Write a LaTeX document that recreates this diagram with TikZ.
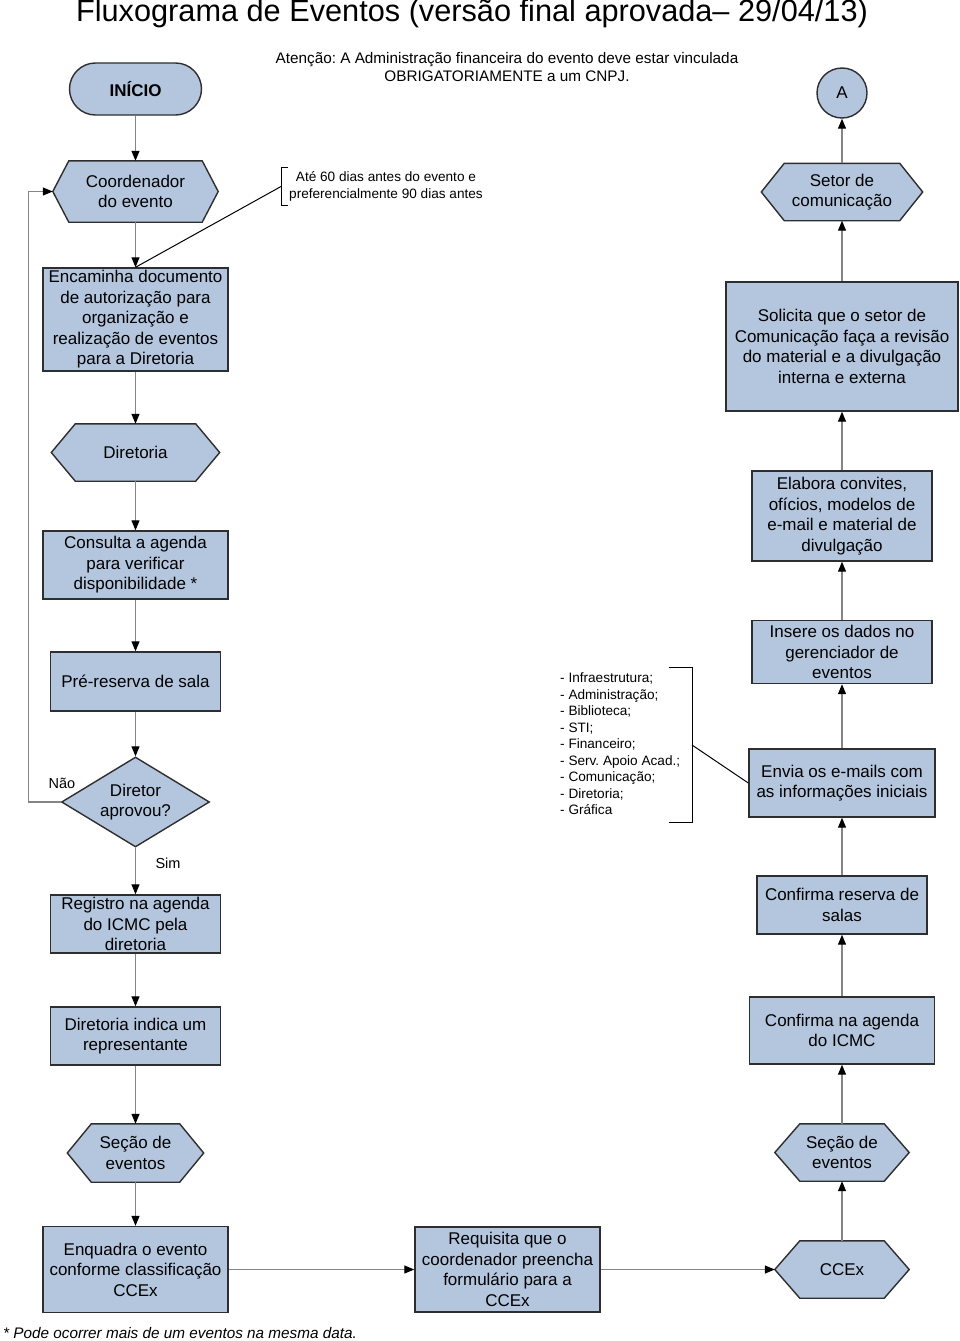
\documentclass[tikz,border=0pt]{standalone}
\usepackage{fontspec}
\setmainfont{Liberation Sans}
\usepackage{tikz}
\usetikzlibrary{shapes.geometric,arrows.meta,backgrounds}
\definecolor{azulcaixa}{HTML}{B4C6DE}
\definecolor{borda}{HTML}{2E2E2E}
\definecolor{linha}{HTML}{858585}
\frenchspacing

\begin{document}
\begin{tikzpicture}[x=1pt, y=-1pt,
    every node/.style={inner sep=0pt, align=center, font=\fontsize{17}{20.5}\selectfont},
    caixa/.style={rectangle, draw=borda, fill=azulcaixa, line width=1.4pt},
    hexa/.style={rectangle},
    fluxo/.style={draw=linha, line width=1.2pt, -{Triangle[length=10pt, width=8pt, color=black]}},
    nota/.style={font=\fontsize{13.6}{16.5}\selectfont},
    chave/.style={line width=1pt}]
    \useasboundingbox (0,0) rectangle (960,1341);

    \node[font=\fontsize{30.7}{36}\selectfont] (titulo) at (472,14) {Fluxograma de Eventos (versão final aprovada– 29/04/13)};
    \node[font=\fontsize{15.3}{18}\selectfont] (aviso) at (507,67) {Atenção: A Administração financeira do evento deve estar vinculada\\OBRIGATORIAMENTE a um CNPJ.};

    \node[caixa, rounded corners=26pt, minimum width=132, minimum height=52, font=\bfseries\fontsize{17}{20.5}\selectfont] (inicio) at (135.5,89) {INÍCIO};
    \node[caixa, circle, minimum size=50] (a) at (842,93) {A};

    \node[hexa, minimum width=165, minimum height=61] (coord) at (135.5,191.5) {Coordenador\\do evento};
    \node[hexa, minimum width=161, minimum height=57] (setor) at (842,192) {Setor de\\comunicação};
    \node[caixa, minimum width=185, minimum height=103] (encaminha) at (135.5,319.5) {Encaminha documento\\de autorização para\\organização e\\realização de eventos\\para a Diretoria};
    \node[caixa, minimum width=232, minimum height=129] (solicita) at (842,346.5) {Solicita que o setor de\\Comunicação faça a revisão\\do material e a divulgação\\interna e externa};
    \node[hexa, minimum width=168, minimum height=57] (diretoria) at (135.5,452.5) {Diretoria};
    \node[caixa, minimum width=180, minimum height=90] (elabora) at (842,516) {Elabora convites,\\ofícios, modelos de\\e-mail e material de\\divulgação};
    \node[caixa, minimum width=185, minimum height=68] (consulta) at (135.5,565) {Consulta a agenda\\para verificar\\disponibilidade *};
    \node[caixa, minimum width=170, minimum height=59] (prereserva) at (135.5,681.5) {Pré-reserva de sala};
    \node[caixa, minimum width=180, minimum height=63] (insere) at (842,652) {Insere os dados no\\gerenciador de\\eventos};
    \node[caixa, diamond, aspect=1.64, minimum width=148, minimum height=90] (diretor) at (135.5,802) {Diretor\\aprovou?};
    \node[caixa, minimum width=186, minimum height=68] (envia) at (842,783) {Envia os e-mails com\\as informações iniciais};
    \node[caixa, minimum width=170, minimum height=58] (registro) at (135.5,924) {Registro na agenda\\do ICMC pela\\diretoria};
    \node[caixa, minimum width=170, minimum height=58] (confreserva) at (842,905) {Confirma reserva de\\salas};
    \node[caixa, minimum width=170, minimum height=58] (indica) at (135.5,1036) {Diretoria indica um\\representante};
    \node[caixa, minimum width=185, minimum height=67] (confagenda) at (842,1030.5) {Confirma na agenda\\do ICMC};
    \node[hexa, minimum width=136, minimum height=58] (secaoesq) at (135.5,1153) {Seção de\\eventos};
    \node[hexa, minimum width=134, minimum height=57] (secaodir) at (842,1152.5) {Seção de\\eventos};
    \node[caixa, minimum width=185, minimum height=86] (enquadra) at (135.5,1269.5) {Enquadra o evento\\conforme classificação\\CCEx};
    \node[caixa, minimum width=185, minimum height=85] (requisita) at (507.5,1269.5) {Requisita que o\\coordenador preencha\\formulário para a\\CCEx};
    \node[hexa, minimum width=134, minimum height=57] (ccex) at (842,1269.5) {CCEx};

    \node[nota, inner xsep=8, inner ysep=4, anchor=west] (prazo) at (281,186.5) {Até 60 dias antes do evento e\\preferencialmente 90 dias antes};
    \node[nota, align=left, anchor=west] (setores) at (560,744) {- Infraestrutura;\\- Administração;\\- Biblioteca;\\- STI;\\- Financeiro;\\- Serv. Apoio Acad.;\\- Comunicação;\\- Diretoria;\\- Gráfica};
    \coordinate (colchete) at (692,745);
    \node[font=\fontsize{14.5}{17}\selectfont] (nao) at (62,783) {Não};
    \node[font=\fontsize{14.5}{17}\selectfont] (sim) at (168,863) {Sim};
    \node[font=\itshape\fontsize{15.3}{17}\selectfont, anchor=west] (rodape) at (3,1333) {* Pode ocorrer mais de um eventos na mesma data.};

    \begin{scope}[on background layer]
        \fill[white] (0,0) rectangle (960,1341);
        \foreach \n/\d in {coord/16, setor/23, diretoria/24, secaoesq/24, secaodir/25, ccex/25}
            \draw[draw=borda, fill=azulcaixa, line width=1.4pt] (\n.west) -- ([xshift=\d]\n.north west) -- ([xshift=-\d]\n.north east) -- (\n.east) -- ([xshift=-\d]\n.south east) -- ([xshift=\d]\n.south west) -- cycle;
    \end{scope}

    \draw[chave] ([xshift=7]prazo.north west) -- (prazo.north west) -- (prazo.south west) -- ([xshift=7]prazo.south west);
    \draw[chave] (prazo.west) -- (encaminha.north);
    \draw[chave] (669,667) -| (692,822) -- (669,822);
    \draw[chave] (colchete) -- (envia.west);

    \draw[fluxo] (inicio) -- (coord);
    \draw[fluxo] (coord) -- (encaminha);
    \draw[fluxo] (encaminha) -- (diretoria);
    \draw[fluxo] (diretoria) -- (consulta);
    \draw[fluxo] (consulta) -- (prereserva);
    \draw[fluxo] (prereserva) -- (diretor);
    \draw[fluxo] (diretor.west) -- ++(-32,0) |- (coord.west);
    \draw[fluxo] (diretor) -- (registro);
    \draw[fluxo] (registro) -- (indica);
    \draw[fluxo] (indica) -- (secaoesq);
    \draw[fluxo] (secaoesq) -- (enquadra);
    \draw[fluxo] (enquadra) -- (requisita);
    \draw[fluxo] (requisita) -- (ccex);
    \draw[fluxo] (ccex) -- (secaodir);
    \draw[fluxo] (secaodir) -- (confagenda);
    \draw[fluxo] (confagenda) -- (confreserva);
    \draw[fluxo] (confreserva) -- (envia);
    \draw[fluxo] (envia) -- (insere);
    \draw[fluxo] (insere) -- (elabora);
    \draw[fluxo] (elabora) -- (solicita);
    \draw[fluxo] (solicita) -- (setor);
    \draw[fluxo] (setor) -- (a);
\end{tikzpicture}
\end{document}
